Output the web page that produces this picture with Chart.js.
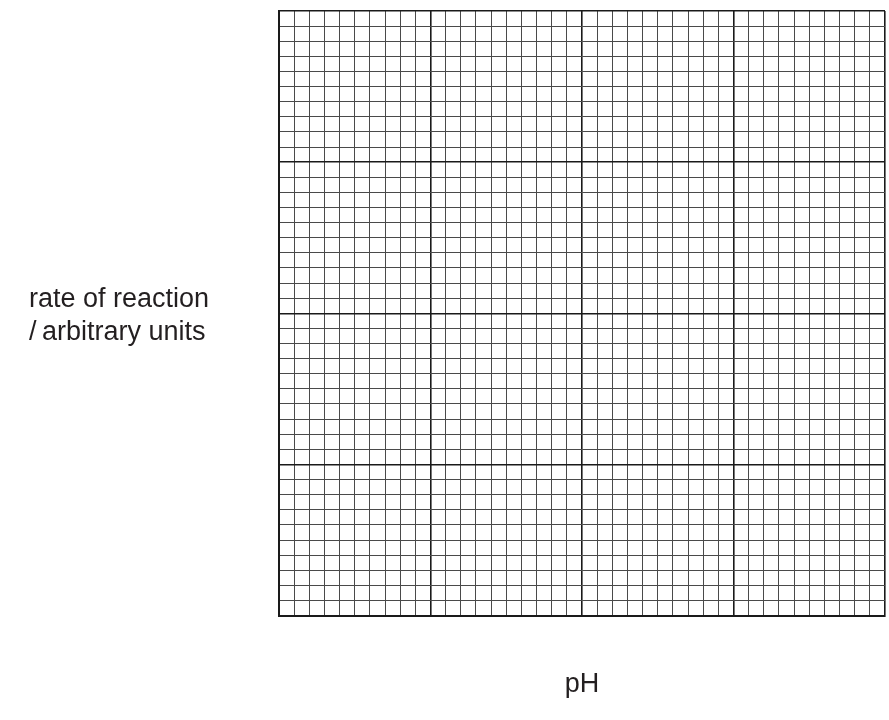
<!DOCTYPE html>
<html>
<head>
<meta charset="utf-8">
<script src="https://cdn.jsdelivr.net/npm/chart.js@4"></script>
<style>
  html, body { margin: 0; padding: 0; background: #fff; }
  #wrap { position: relative; width: 889px; height: 720px; }
</style>
</head>
<body>
<div id="wrap"><canvas id="grid" width="889" height="720"></canvas></div>
<script>
// graph paper: 40 x 40 small squares, heavier line every 10
const xRange = [0, 40];
const yRange = [0, 40];
const minorStep = 1;
const majorEvery = 10;
const xTitle = 'pH';
const yTitleLines = ['rate of reaction', '/\u2009arbitrary units'];

const font = { family: "'Liberation Sans', Arial, sans-serif" };
const ink = '#231f20';

const gridOpts = {
  drawTicks: false,
  color: c => c.tick.value % majorEvery === 0 ? '#1a1a1a' : '#4a4a4a',
  lineWidth: c => c.tick.value % majorEvery === 0 ? 1.6 : 1
};

new Chart(document.getElementById('grid'), {
  type: 'scatter',
  data: { datasets: [{ data: [] }] },
  options: {
    responsive: false, animation: false,
    layout: { padding: { left: 279, right: 4, top: 11, bottom: 0 } },
    plugins: { legend: { display: false }, tooltip: { enabled: false } },
    scales: {
      x: {
        min: xRange[0], max: xRange[1],
        ticks: { display: false, stepSize: minorStep },
        grid: gridOpts,
        border: { display: true, color: '#1a1a1a', width: 2 },
        title: { display: true, text: xTitle, color: ink, font: { ...font, size: 27 }, padding: { top: 53, bottom: 19 } }
      },
      y: {
        min: yRange[0], max: yRange[1],
        ticks: { display: false, stepSize: minorStep },
        grid: gridOpts,
        border: { display: true, color: '#1a1a1a', width: 2 }
      }
    }
  },
  plugins: [{
    id: 'yLabel',
    afterDraw(chart) {
      const ctx = chart.ctx;
      ctx.save();
      ctx.fillStyle = ink;
      ctx.font = "27px 'Liberation Sans', Arial, sans-serif";
      ctx.textAlign = 'left'; ctx.textBaseline = 'alphabetic';
      yTitleLines.forEach((t, i) => ctx.fillText(t, 29, 307 + i * 33));
      ctx.restore();
    }
  }]
});
</script>
</body>
</html>
